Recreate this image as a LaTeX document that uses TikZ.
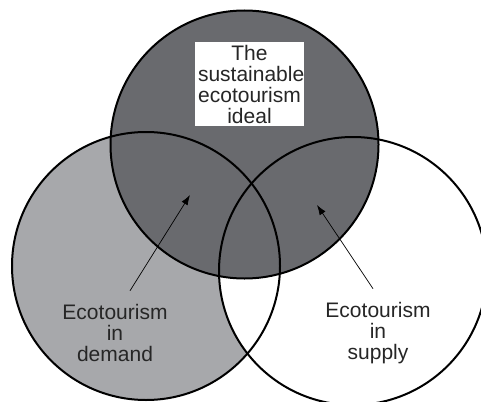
\documentclass[tikz,border=0pt]{standalone}
\usepackage{fontspec}
\setmainfont{Liberation Sans}
\usetikzlibrary{positioning,arrows.meta}
\definecolor{idealgray}{RGB}{105,106,110}
\definecolor{demandgray}{RGB}{167,168,171}
\tikzstyle{ring}=[circle, minimum size=268pt, inner sep=0pt]
\tikzstyle{label}=[align=center, font=\fontsize{21}{21}\selectfont, text=black!85]
\tikzset{>={Latex[length=10pt,width=7pt]}}

\begin{document}
\begin{tikzpicture}[x=1pt,y=-1pt]
    \useasboundingbox (0,0) rectangle (481,401);

        % the three sets, filled first
        \node (demand)[ring, fill=demandgray] at (146,266) {};
        \node (supply)[ring, fill=white] at (353,271) {};
        \node (ideal)[ring, fill=idealgray] at (244.5,144.5) {};

        % outlines on top
        \foreach \c in {demand,supply,ideal}{
            \draw[line width=2pt] (\c.center) circle[radius=134pt];
        };

        \node (idealText)[label, fill=white, inner sep=3pt, text width=103pt] at (249.5,84) {The\\sustainable\\ecotourism\\ideal};

        \node (demandText)[label] at (115,333) {Ecotourism\\in\\demand};
        \node (supplyText)[label] at (378,333) {Ecotourism\\in\\supply};

        \coordinate (demandTip) at (190,195);
        \coordinate (supplyTip) at (317,205);

        \draw [->, line width=0.7pt] ([xshift=15pt,yshift=10pt]demandText.north) -- (demandTip);
        \draw [->, line width=0.7pt] ([xshift=-5pt,yshift=10pt]supplyText.north) -- (supplyTip);

\end{tikzpicture}
\end{document}
